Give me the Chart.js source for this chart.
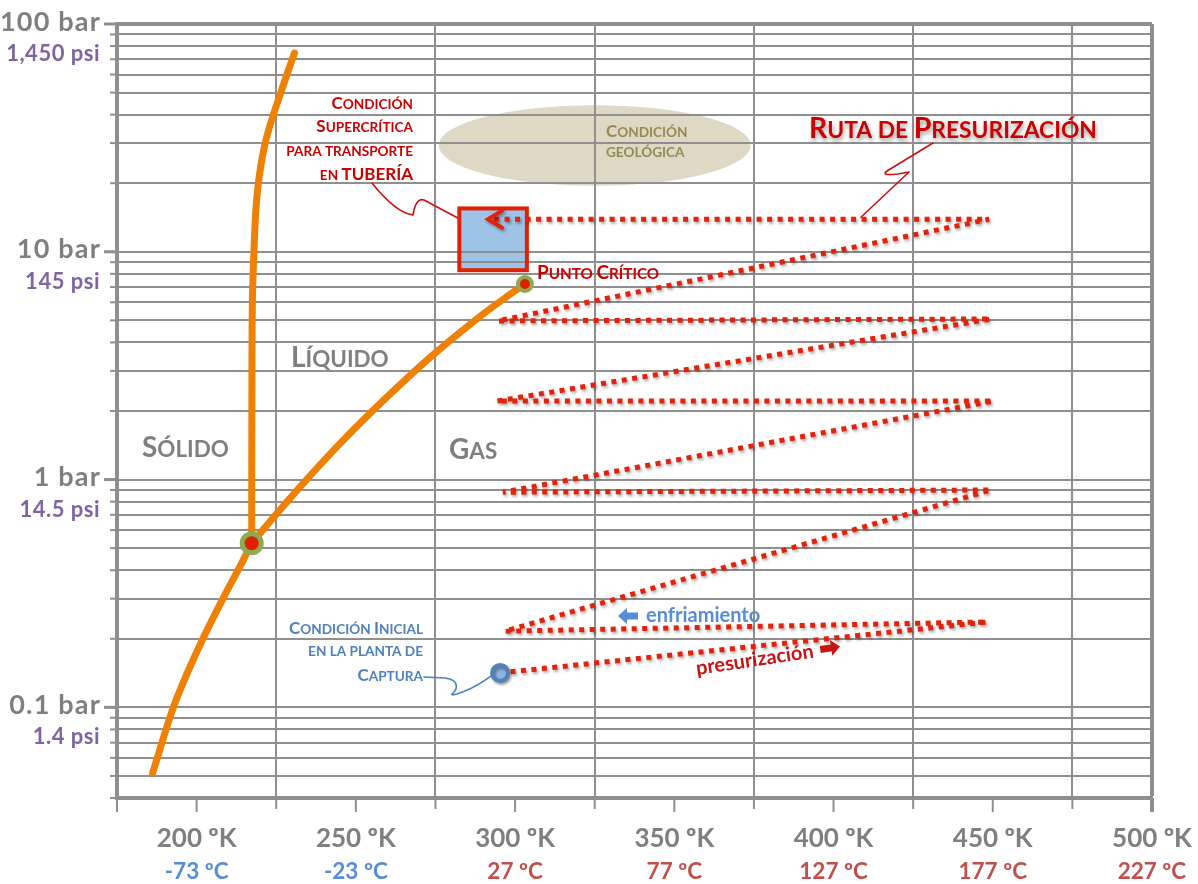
<!DOCTYPE html>
<html>
<head>
<meta charset="utf-8">
<script src="https://cdn.jsdelivr.net/npm/chart.js@4.4.1/dist/chart.umd.min.js"></script>
<style>
  html, body { margin: 0; padding: 0; background: #ffffff; }
  #wrap { width: 1198px; height: 884px; position: relative; }
</style>
</head>
<body>
<div id="wrap"><canvas id="c" width="1198" height="884"></canvas></div>
<script>
// CO2 phase diagram: temperature in K, pressure in bar
const sublimationT = [186.2, 192.7, 201.6, 209.4, 213.6, 217.3];
const sublimationP = [0.0515, 0.1, 0.195, 0.322, 0.415, 0.525];

const meltingT = [217.3, 217.36, 217.52, 218.02, 218.62, 219.34, 220.19, 221.25, 222.60, 224.30, 226.40, 228.54, 230.74];
const meltingP = [0.525, 2.24, 6.14, 10.2, 15.3, 19.7, 24.0, 28.8, 34.2, 40.7, 49.8, 61.0, 74.6];

const vaporT = [217.3, 225.2, 233.5, 245.0, 255.5, 268.0, 275.4, 290.0, 297.4, 303.1];
const vaporP = [0.525, 0.710, 0.963, 1.437, 2.02, 2.95, 3.64, 5.33, 6.35, 7.22];

const triplePointT = [217.3];
const triplePointP = [0.525];
const criticalPointT = [303.1];
const criticalPointP = [7.22];
const initialPointT = [295.3];
const initialPointP = [0.1416];

// pressurization route: compress (rising) then cool (back left), repeated
const routeT = [295.3, 448.2, 296.8, 449.4, 296.2, 450.1, 294.3, 449.4, 294.6, 448.8, 291.5];
const routeP = [0.1416, 0.237, 0.216, 0.90, 0.88, 2.21, 2.21, 5.07, 4.97, 13.9, 13.9];

// supercritical pipeline window and geological storage zone
const pipelineT = [282.5, 303.7];
const pipelineP = [8.3, 15.5];
const geologicT = [276, 374];
const geologicP = [19.5, 44];

// axis labels
const kelvinTicks = [200, 250, 300, 350, 400, 450, 500];
const kelvinLabels = ['200 ºK', '250 ºK', '300 ºK', '350 ºK', '400 ºK', '450 ºK', '500 ºK'];
const celsiusLabels = ['-73 ºC', '-23 ºC', '27 ºC', '77 ºC', '127 ºC', '177 ºC', '227 ºC'];
const barTicks = [100, 10, 1, 0.1];
const barLabels = ['100 bar', '10 bar', '1 bar', '0.1 bar'];
const psiLabels = ['1,450 psi', '145 psi', '14.5 psi', '1.4 psi'];

// logarithmic grid: 1..9 per decade between 0.04 and 100 bar
const pressureGrid = [];
for (let e = -2; e <= 2; e++) {
  for (let m = 1; m <= 9; m++) {
    const v = +(m * Math.pow(10, e)).toPrecision(3);
    if (v >= 0.04 && v <= 100) pressureGrid.push(v);
  }
}

const FONT = 'Lato, "Open Sans", sans-serif';
const GRID = '#8f8f8f';
const ORANGE = '#ee8004';
const ROUTE_RED = '#e2230c';
const TITLE_RED = '#cc0000';
const REGION_GRAY = '#7f7f7f';

const toPoints = (xs, ys) => xs.map((x, i) => ({ x: x, y: ys[i] }));

function scRuns(text, big) {
  const small = big * 0.8;
  const runs = [];
  for (const ch of text) {
    const upper = ch !== ch.toLowerCase() && ch === ch.toUpperCase();
    const size = upper ? big : small;
    const t = ch.toUpperCase();
    const last = runs[runs.length - 1];
    if (last && last.size === size) last.t += t; else runs.push({ t: t, size: size });
  }
  return runs;
}

function drawSmallCaps(ctx, text, x, y, big, color, align) {
  const runs = scRuns(text, big);
  let total = 0;
  runs.forEach(r => { ctx.font = 'bold ' + r.size + 'px ' + FONT; r.w = ctx.measureText(r.t).width; total += r.w; });
  let cx = align === 'right' ? x - total : (align === 'center' ? x - total / 2 : x);
  ctx.fillStyle = color;
  ctx.textAlign = 'left';
  ctx.textBaseline = 'alphabetic';
  runs.forEach(r => { ctx.font = 'bold ' + r.size + 'px ' + FONT; ctx.fillText(r.t, cx, y); cx += r.w; });
}

const decorations = {
  id: 'decorations',
  beforeDraw(chart) {
    const ctx = chart.ctx;
    const sx = chart.scales.x, sy = chart.scales.y;
    // geological storage ellipse (under the grid)
    const x0 = sx.getPixelForValue(geologicT[0]), x1 = sx.getPixelForValue(geologicT[1]);
    const y0 = sy.getPixelForValue(geologicP[0]), y1 = sy.getPixelForValue(geologicP[1]);
    ctx.save();
    ctx.fillStyle = '#ddd9c4';
    ctx.beginPath();
    ctx.ellipse((x0 + x1) / 2, (y0 + y1) / 2, (x1 - x0) / 2, (y0 - y1) / 2, 0, 0, Math.PI * 2);
    ctx.fill();
    // pipeline window fill
    const bx0 = sx.getPixelForValue(pipelineT[0]), bx1 = sx.getPixelForValue(pipelineT[1]);
    const by0 = sy.getPixelForValue(pipelineP[1]), by1 = sy.getPixelForValue(pipelineP[0]);
    ctx.fillStyle = '#9dc3e6';
    ctx.fillRect(bx0, by0, bx1 - bx0, by1 - by0);
    ctx.restore();
  },
  beforeDatasetsDraw(chart) {
    const ctx = chart.ctx;
    const sx = chart.scales.x, sy = chart.scales.y;
    const area = chart.chartArea;
    ctx.save();
    // pipeline window outline
    const bx0 = sx.getPixelForValue(pipelineT[0]), bx1 = sx.getPixelForValue(pipelineT[1]);
    const by0 = sy.getPixelForValue(pipelineP[1]), by1 = sy.getPixelForValue(pipelineP[0]);
    ctx.strokeStyle = '#e02000';
    ctx.lineWidth = 4;
    ctx.strokeRect(bx0, by0, bx1 - bx0, by1 - by0);

    // tick marks
    ctx.strokeStyle = GRID;
    sy.ticks.forEach(t => {
      const y = sy.getPixelForValue(t.value);
      const major = barTicks.includes(t.value);
      ctx.lineWidth = major ? 3 : 2;
      ctx.beginPath();
      ctx.moveTo(area.left - (major ? 13 : 7), y);
      ctx.lineTo(area.left, y);
      ctx.stroke();
    });
    sx.ticks.forEach(t => {
      const x = sx.getPixelForValue(t.value);
      const labelled = kelvinTicks.includes(t.value) || t.value === 175;
      ctx.lineWidth = t.value === 500 ? 4 : 2;
      ctx.beginPath();
      ctx.moveTo(x, area.bottom);
      ctx.lineTo(x, area.bottom + (labelled ? 14 : 11));
      ctx.stroke();
    });
    ctx.restore();
  },
  beforeDatasetDraw(chart, args) {
    const ds = chart.data.datasets[args.index];
    if (ds.shadow) {
      const ctx = chart.ctx;
      ctx.save();
      ctx.shadowColor = 'rgba(0,0,0,0.35)';
      ctx.shadowBlur = 3;
      ctx.shadowOffsetX = 1.5;
      ctx.shadowOffsetY = 2;
    }
  },
  afterDatasetDraw(chart, args) {
    const ds = chart.data.datasets[args.index];
    if (ds.shadow) chart.ctx.restore();
  },
  afterDatasetsDraw(chart) {
    const ctx = chart.ctx;
    const sx = chart.scales.x, sy = chart.scales.y;
    // arrow head at the end of the route
    const n = routeT.length - 1;
    const tx = sx.getPixelForValue(routeT[n]), ty = sy.getPixelForValue(routeP[n]);
    ctx.save();
    ctx.shadowColor = 'rgba(0,0,0,0.35)';
    ctx.shadowBlur = 3;
    ctx.shadowOffsetX = 1.5;
    ctx.shadowOffsetY = 2;
    ctx.strokeStyle = ROUTE_RED;
    ctx.lineWidth = 4;
    ctx.lineCap = 'round';
    ctx.lineJoin = 'miter';
    ctx.beginPath();
    ctx.moveTo(tx + 14, ty - 8.5);
    ctx.lineTo(tx, ty);
    ctx.lineTo(tx + 14, ty + 8.5);
    ctx.stroke();
    ctx.restore();
  },
  afterDraw(chart) {
    const ctx = chart.ctx;
    const sx = chart.scales.x, sy = chart.scales.y;
    const area = chart.chartArea;
    ctx.save();

    // y axis labels: bar and psi
    ctx.textAlign = 'right';
    ctx.textBaseline = 'middle';
    barTicks.forEach((v, i) => {
      const y = sy.getPixelForValue(v);
      ctx.font = 'bold 27px ' + FONT;
      ctx.letterSpacing = '1.2px';
      ctx.fillStyle = REGION_GRAY;
      ctx.fillText(barLabels[i], area.left - 16, y - 2);
      ctx.font = 'bold 22px ' + FONT;
      ctx.letterSpacing = '0.5px';
      ctx.fillStyle = '#8064a2';
      ctx.fillText(psiLabels[i], area.left - 17, y + 30);
    });
    ctx.letterSpacing = '0px';

    // x axis labels: kelvin and celsius
    ctx.textAlign = 'center';
    kelvinTicks.forEach((v, i) => {
      const x = sx.getPixelForValue(v);
      ctx.font = 'bold 26px ' + FONT;
      ctx.fillStyle = REGION_GRAY;
      ctx.fillText(kelvinLabels[i], x, area.bottom + 41);
      ctx.font = 'bold 22.5px ' + FONT;
      ctx.fillStyle = celsiusLabels[i].startsWith('-') ? '#558ed5' : '#c0504d';
      ctx.fillText(celsiusLabels[i], x, area.bottom + 74);
    });

    // phase regions
    drawSmallCaps(ctx, 'Sólido', 142, 457, 28, REGION_GRAY, 'left');
    drawSmallCaps(ctx, 'Líquido', 291, 367, 28, REGION_GRAY, 'left');
    drawSmallCaps(ctx, 'Gas', 449, 459, 28, REGION_GRAY, 'left');

    // critical point
    drawSmallCaps(ctx, 'Punto Crítico', 537, 279, 19, TITLE_RED, 'left');

    // supercritical transport note
    ['Condición', 'Supercrítica', 'para transporte', 'en TUBERÍA'].forEach((s, i) => {
      drawSmallCaps(ctx, s, 413, [109, 132, 156, 180][i], 17, TITLE_RED, 'right');
    });

    // geological condition
    drawSmallCaps(ctx, 'Condición', 606, 137, 17, '#948a54', 'left');
    drawSmallCaps(ctx, 'geológica', 606, 157, 17, '#948a54', 'left');

    // initial condition
    ['Condición Inicial', 'en la planta de', 'Captura'].forEach((s, i) => {
      drawSmallCaps(ctx, s, 423, [634, 656, 681][i], 17, '#4f81bd', 'right');
    });

    // route title with soft shadow
    ctx.save();
    ctx.shadowColor = 'rgba(0,0,0,0.4)';
    ctx.shadowBlur = 4;
    ctx.shadowOffsetX = 1;
    ctx.shadowOffsetY = 3;
    drawSmallCaps(ctx, 'Ruta de Presurización', 809, 138, 28.5, TITLE_RED, 'left');
    ctx.restore();

    // callout lines
    ctx.lineWidth = 1.6;
    ctx.lineCap = 'round';
    ctx.lineJoin = 'round';
    ctx.strokeStyle = '#d01010';
    const rx = sx.getPixelForValue(408.6), ry = sy.getPixelForValue(routeP[9]) - 2;
    ctx.beginPath();
    ctx.moveTo(933, 143);
    ctx.lineTo(887, 171);
    ctx.quadraticCurveTo(880, 176, 898, 174);
    ctx.lineTo(909, 172);
    ctx.lineTo(rx, ry);
    ctx.stroke();

    const bx = sx.getPixelForValue(pipelineT[0]) - 2, by = sy.getPixelForValue(14.1);
    ctx.beginPath();
    ctx.moveTo(372, 183);
    ctx.quadraticCurveTo(396, 213, 413, 215);
    ctx.quadraticCurveTo(416, 197, 424, 200);
    ctx.lineTo(bx, by);
    ctx.stroke();

    const ix = sx.getPixelForValue(initialPointT[0]), iy = sy.getPixelForValue(initialPointP[0]);
    ctx.strokeStyle = '#4f81bd';
    ctx.beginPath();
    ctx.moveTo(424, 677);
    ctx.lineTo(445, 678);
    ctx.bezierCurveTo(462, 680, 456, 692, 452, 694);
    ctx.bezierCurveTo(449, 697, 470, 692, ix - 9, iy + 3);
    ctx.stroke();

    // cooling note
    ctx.fillStyle = '#558ed5';
    ctx.beginPath();
    ctx.moveTo(618, 616);
    ctx.lineTo(627, 608);
    ctx.lineTo(627, 612.5);
    ctx.lineTo(638, 612.5);
    ctx.lineTo(638, 619.5);
    ctx.lineTo(627, 619.5);
    ctx.lineTo(627, 624);
    ctx.closePath();
    ctx.fill();
    ctx.font = 'bold 20px ' + FONT;
    ctx.textAlign = 'left';
    ctx.textBaseline = 'alphabetic';
    ctx.fillText('enfriamiento', 646, 622);

    // pressurization note, following the rising branch
    ctx.save();
    ctx.translate(697, 675);
    ctx.rotate(-8.5 * Math.PI / 180);
    ctx.fillStyle = '#c81414';
    ctx.font = 'bold 20px ' + FONT;
    ctx.fillText('presurización', 0, 0);
    const w = ctx.measureText('presurización').width;
    const a0 = w + 7;
    ctx.beginPath();
    ctx.moveTo(a0 + 20, -7);
    ctx.lineTo(a0 + 11, -15);
    ctx.lineTo(a0 + 11, -10.5);
    ctx.lineTo(a0, -10.5);
    ctx.lineTo(a0, -3.5);
    ctx.lineTo(a0 + 11, -3.5);
    ctx.lineTo(a0 + 11, 1);
    ctx.closePath();
    ctx.fill();
    ctx.restore();

    ctx.restore();
  }
};

const phaseLine = {
  borderColor: ORANGE, borderWidth: 7, borderCapStyle: 'round', borderJoinStyle: 'round',
  pointRadius: 0, order: 2
};

const chart = new Chart(document.getElementById('c'), {
  type: 'line',
  data: {
    datasets: [
      {
        label: 'Punto triple',
        data: toPoints(triplePointT, triplePointP),
        showLine: false, pointRadius: 9.5, pointBorderWidth: 5,
        pointBackgroundColor: '#e02000', pointBorderColor: '#8faa52', order: 0
      },
      {
        label: 'Punto crítico',
        data: toPoints(criticalPointT, criticalPointP),
        showLine: false, pointRadius: 7, pointBorderWidth: 4,
        pointBackgroundColor: '#e02000', pointBorderColor: '#8faa52', order: 0
      },
      {
        label: 'Condición inicial',
        data: toPoints(initialPointT, initialPointP),
        showLine: false, pointRadius: 8, pointBorderWidth: 4,
        pointBackgroundColor: '#8db4e2', pointBorderColor: '#4f81bd', order: 0, shadow: true
      },
      {
        label: 'Ruta de presurización',
        data: toPoints(routeT, routeP),
        borderColor: ROUTE_RED, borderWidth: 5, borderDash: [5, 5.5],
        borderCapStyle: 'butt', borderJoinStyle: 'bevel',
        pointRadius: 0, tension: 0, order: 1, shadow: true
      },
      Object.assign({ label: 'Sublimación', data: toPoints(sublimationT, sublimationP), cubicInterpolationMode: 'monotone' }, phaseLine),
      Object.assign({ label: 'Fusión', data: toPoints(meltingT, meltingP), tension: 0.4 }, phaseLine),
      Object.assign({ label: 'Vaporización', data: toPoints(vaporT, vaporP), cubicInterpolationMode: 'monotone' }, phaseLine)
    ]
  },
  options: {
    responsive: false,
    animation: false,
    devicePixelRatio: 1,
    events: [],
    layout: { padding: { top: 24, right: 46, left: 0, bottom: 0 } },
    plugins: { legend: { display: false }, tooltip: { enabled: false } },
    scales: {
      x: {
        type: 'linear',
        min: 175, max: 500,
        ticks: { stepSize: 25, display: false, autoSkip: false },
        grid: {
          drawTicks: false,
          color: c => {
            const v = c.tick ? c.tick.value : 0;
            return ((v - 175) % 50 === 0 && v !== 175) || v === 500 ? GRID : 'rgba(0,0,0,0)';
          },
          lineWidth: c => (c.tick && c.tick.value === 500 ? 4 : 2)
        },
        border: { display: true, color: GRID, width: 4 },
        afterFit: s => { s.height = 86; }
      },
      y: {
        type: 'logarithmic',
        min: 0.04, max: 100,
        ticks: { display: false, autoSkip: false },
        afterBuildTicks: s => { s.ticks = pressureGrid.map(v => ({ value: v })); },
        grid: {
          drawTicks: false,
          color: GRID,
          lineWidth: c => (c.tick && c.tick.value === 100 ? 4 : 2)
        },
        border: { display: true, color: GRID, width: 4 },
        afterFit: s => { s.width = 117; }
      }
    }
  },
  plugins: [decorations]
});
</script>
</body>
</html>
